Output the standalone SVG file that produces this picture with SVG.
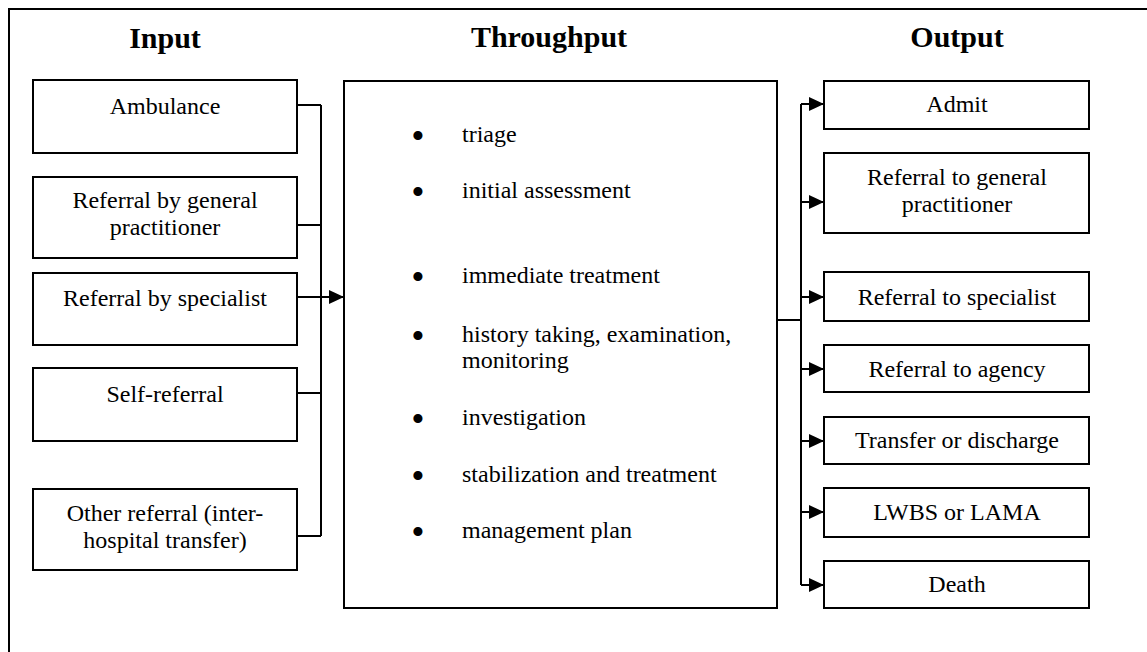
<svg xmlns="http://www.w3.org/2000/svg" width="1147" height="652" viewBox="0 0 1147 652">
<style>
  .box { fill: #fff; stroke: #000; stroke-width: 2; }
  .frame { fill: #fff; stroke: #000; stroke-width: 2; }
  .t { font-family: "Liberation Serif", "Times New Roman", serif; font-size: 24px; fill: #000; text-anchor: middle; }
  .tl { font-family: "Liberation Serif", "Times New Roman", serif; font-size: 24px; fill: #000; }
  .b { font-family: "Liberation Serif", "Times New Roman", serif; font-size: 38px; fill: #000; text-anchor: middle; }
  .h { font-family: "Liberation Serif", "Times New Roman", serif; font-size: 30px; font-weight: bold; fill: #000; text-anchor: middle; }
  .c { fill: none; stroke: #000; stroke-width: 2; }
</style>
<defs>
  <marker id="arr" markerUnits="userSpaceOnUse" markerWidth="16" markerHeight="16" refX="15" refY="7" orient="auto">
    <path d="M0,0 L15,7 L0,14 Z" fill="#000"/>
  </marker>
</defs>
<rect x="0" y="0" width="1147" height="652" fill="#fff"/>
<rect class="frame" x="9" y="9" width="1160" height="670"/>

<g id="titles">
  <text class="h" x="165" y="48">Input</text>
  <text class="h" x="549" y="47">Throughput</text>
  <text class="h" x="957" y="47">Output</text>
</g>

<g id="connectors">
  <path class="c" d="M297,105 H321 M297,225 H321 M297,393 H321 M297,536 H321 M321,105 V536"/>
  <line class="c" x1="297" y1="297" x2="344" y2="297" marker-end="url(#arr)"/>
  <path class="c" d="M777,320 H801 M801,104 V585"/>
  <line class="c" x1="801" y1="104" x2="824" y2="104" marker-end="url(#arr)"/>
  <line class="c" x1="801" y1="202" x2="824" y2="202" marker-end="url(#arr)"/>
  <line class="c" x1="801" y1="297" x2="824" y2="297" marker-end="url(#arr)"/>
  <line class="c" x1="801" y1="369" x2="824" y2="369" marker-end="url(#arr)"/>
  <line class="c" x1="801" y1="441" x2="824" y2="441" marker-end="url(#arr)"/>
  <line class="c" x1="801" y1="512" x2="824" y2="512" marker-end="url(#arr)"/>
  <line class="c" x1="801" y1="585" x2="824" y2="585" marker-end="url(#arr)"/>
</g>

<g id="in-ambulance">
  <rect class="box" x="33" y="80" width="264" height="73"/>
  <text class="t" x="165" y="114">Ambulance</text>
</g>
<g id="in-gp">
  <rect class="box" x="33" y="177" width="264" height="81"/>
  <text class="t" x="165" y="208">Referral by general</text>
  <text class="t" x="165" y="235">practitioner</text>
</g>
<g id="in-specialist">
  <rect class="box" x="33" y="273" width="264" height="72"/>
  <text class="t" x="165" y="306">Referral by specialist</text>
</g>
<g id="in-self">
  <rect class="box" x="33" y="368" width="264" height="73"/>
  <text class="t" x="165" y="402">Self-referral</text>
</g>
<g id="in-other">
  <rect class="box" x="33" y="489" width="264" height="81"/>
  <text class="t" x="165" y="521">Other referral (inter-</text>
  <text class="t" x="165" y="548">hospital transfer)</text>
</g>

<g id="throughput">
  <rect class="box" x="344" y="81" width="433" height="527"/>
  <text class="b" x="418" y="149">•</text><text class="tl" x="462" y="142">triage</text>
  <text class="b" x="418" y="205">•</text><text class="tl" x="462" y="198">initial assessment</text>
  <text class="b" x="418" y="290">•</text><text class="tl" x="462" y="283">immediate treatment</text>
  <text class="b" x="418" y="349">•</text><text class="tl" x="462" y="342">history taking, examination,</text>
  <text class="tl" x="462" y="368">monitoring</text>
  <text class="b" x="418" y="432">•</text><text class="tl" x="462" y="425">investigation</text>
  <text class="b" x="418" y="489">•</text><text class="tl" x="462" y="482">stabilization and treatment</text>
  <text class="b" x="418" y="545">•</text><text class="tl" x="462" y="538">management plan</text>
</g>

<g id="out-admit">
  <rect class="box" x="824" y="81" width="265" height="48"/>
  <text class="t" x="957" y="112">Admit</text>
</g>
<g id="out-gp">
  <rect class="box" x="824" y="153" width="265" height="80"/>
  <text class="t" x="957" y="185">Referral to general</text>
  <text class="t" x="957" y="212">practitioner</text>
</g>
<g id="out-specialist">
  <rect class="box" x="824" y="272" width="265" height="49"/>
  <text class="t" x="957" y="305">Referral to specialist</text>
</g>
<g id="out-agency">
  <rect class="box" x="824" y="345" width="265" height="47"/>
  <text class="t" x="957" y="377">Referral to agency</text>
</g>
<g id="out-transfer">
  <rect class="box" x="824" y="417" width="265" height="47"/>
  <text class="t" x="957" y="448">Transfer or discharge</text>
</g>
<g id="out-lwbs">
  <rect class="box" x="824" y="488" width="265" height="49"/>
  <text class="t" x="957" y="520">LWBS or LAMA</text>
</g>
<g id="out-death">
  <rect class="box" x="824" y="561" width="265" height="47"/>
  <text class="t" x="957" y="592">Death</text>
</g>
</svg>
